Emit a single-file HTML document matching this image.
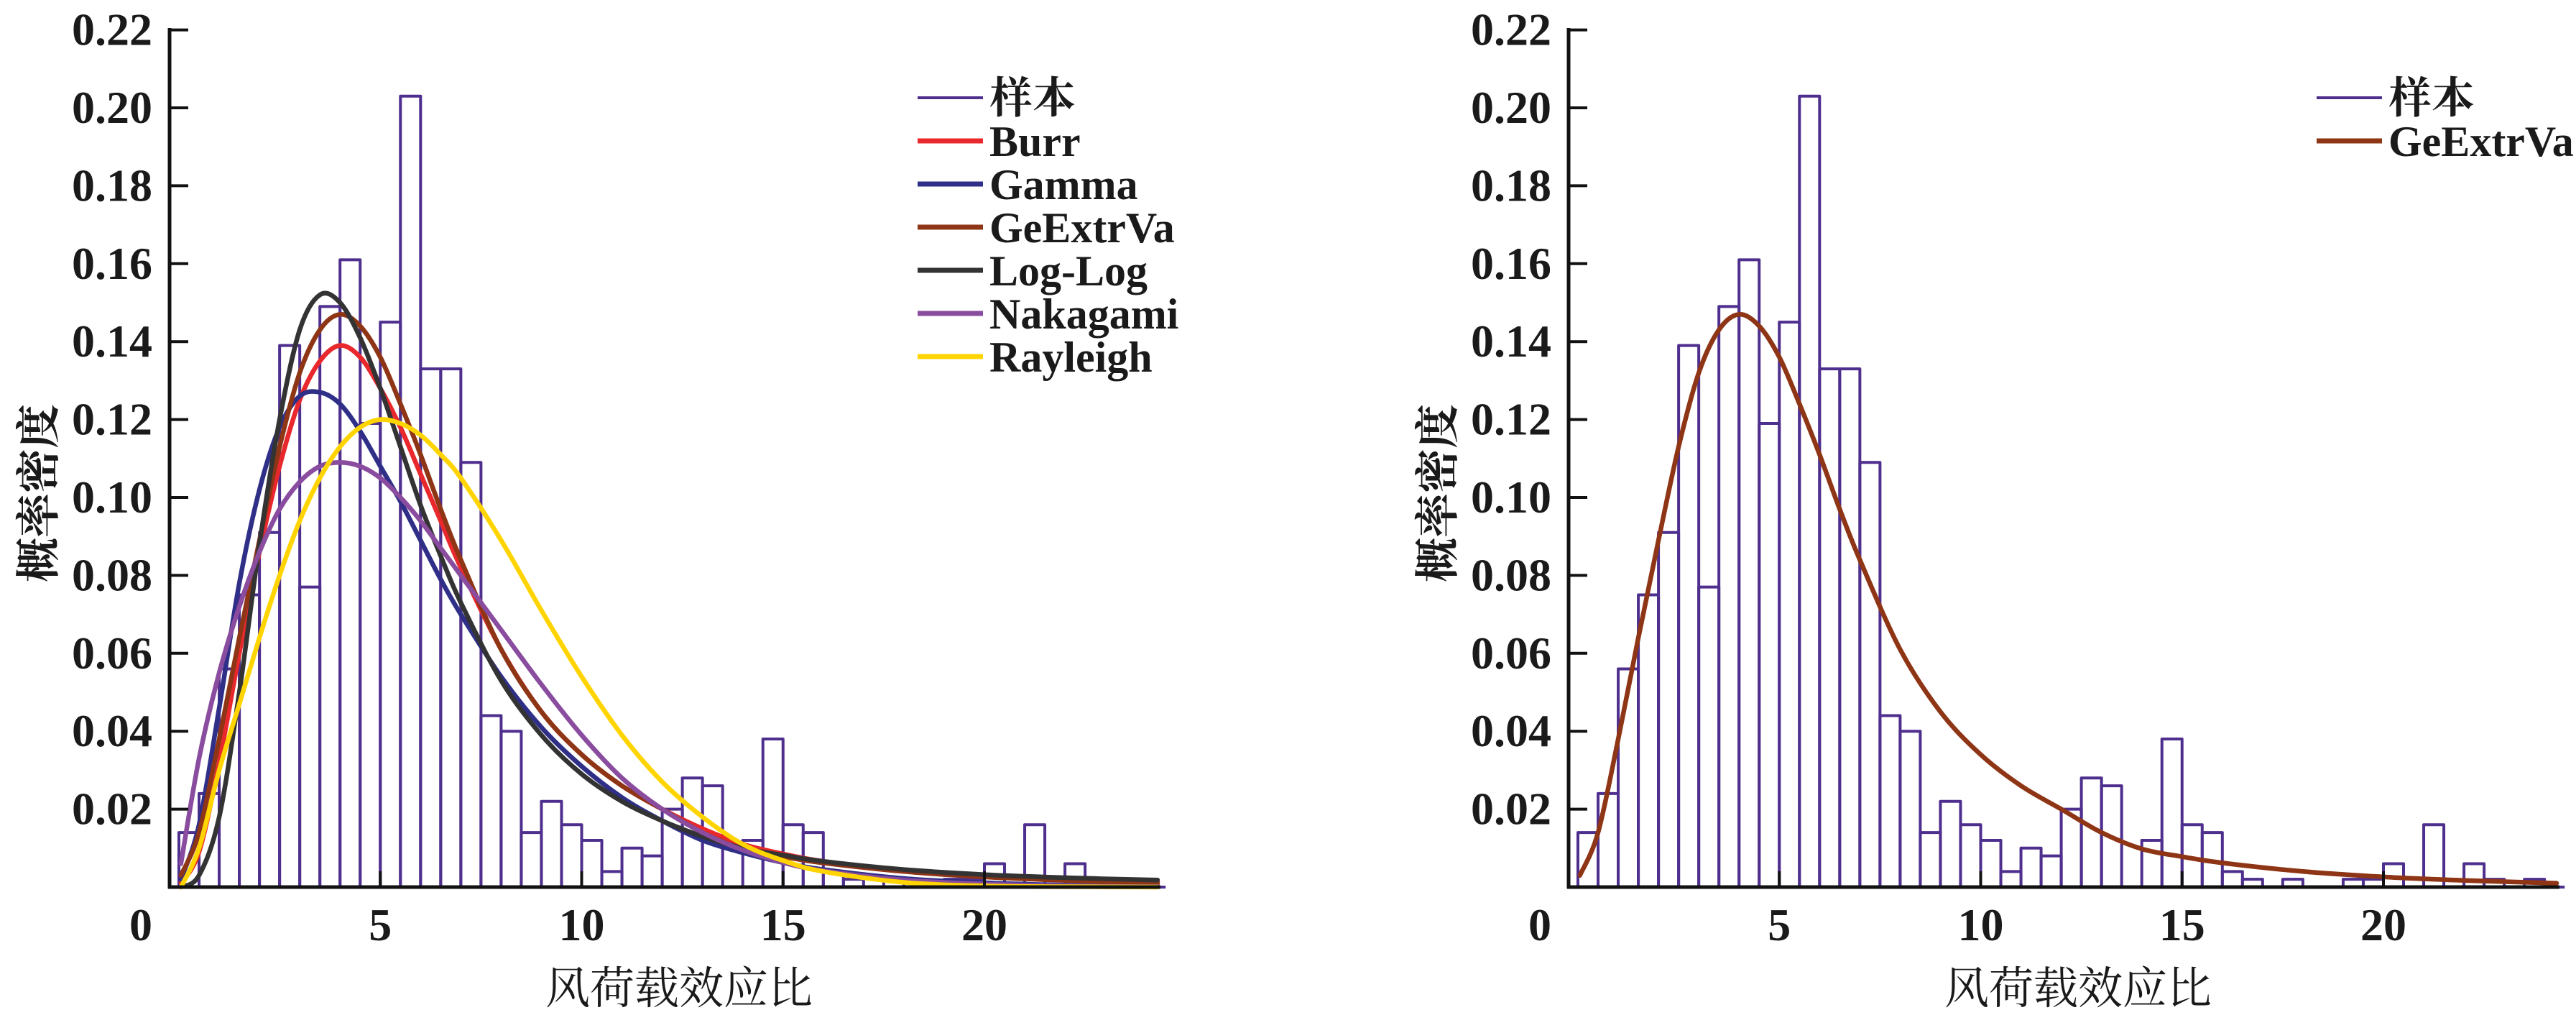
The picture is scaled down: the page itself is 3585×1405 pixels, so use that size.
<!DOCTYPE html>
<html><head><meta charset="utf-8">
<style>
html,body{margin:0;padding:0;background:#fff;}
svg{display:block;}
text{font-family:"Liberation Serif","Noto Serif CJK SC",serif;}
</style></head>
<body>
<svg id="fig" xmlns="http://www.w3.org/2000/svg" width="3585" height="1405" viewBox="0 0 3585 1405"></svg>
<script>
// ---- data ----
const binWidth = 0.5;
const sampleDensity = [0.014,0.024,0.056,0.075,0.091,0.139,0.077,0.149,0.161,0.119,
  0.145,0.203,0.133,0.133,0.109,0.044,0.040,0.014,0.022,0.016,
  0.012,0.004,0.010,0.008,0.020,0.028,0.026,0.0,0.012,0.038,
  0.016,0.014,0.004,0.002,0.0,0.002,0.0,0.0,0.002,0.002,
  0.006,0.0,0.016,0.0,0.006,0.002,0.0,0.002,0.0];
const curveX = [0.05,0.5,1,1.5,2,2.5,3,3.5,4,4.5,5,5.5,6,6.5,7,8,9,10,11,12,13,14,15,16,18,20,22,24.3];
const burrY = [0.001,0.009,0.032,0.060,0.086,0.108,0.125,0.135,0.139,0.136,0.128,0.118,0.106,0.094,0.082,0.061,0.045,0.034,0.026,0.020,0.015,0.011,0.0085,0.0066,0.0042,0.0028,0.0019,0.0013];
const gammaY = [0.002,0.016,0.046,0.078,0.102,0.118,0.126,0.127,0.124,0.117,0.108,0.099,0.089,0.079,0.070,0.054,0.041,0.031,0.023,0.017,0.012,0.0088,0.0063,0.0045,0.0022,0.0011,0.0005,0.0002];
const gevY = [0.003,0.014,0.038,0.064,0.089,0.113,0.132,0.143,0.147,0.144,0.136,0.124,0.111,0.097,0.084,0.061,0.045,0.034,0.026,0.020,0.014,0.0098,0.0078,0.0062,0.0040,0.0026,0.0017,0.0010];
const loglogY = [0.0,0.003,0.018,0.050,0.088,0.120,0.143,0.152,0.150,0.141,0.128,0.113,0.098,0.085,0.073,0.053,0.039,0.029,0.022,0.017,0.013,0.010,0.0082,0.0066,0.0045,0.0032,0.0024,0.0018];
const nakagamiY = [0.006,0.033,0.055,0.072,0.086,0.097,0.104,0.108,0.109,0.108,0.105,0.100,0.094,0.087,0.080,0.066,0.052,0.039,0.028,0.020,0.014,0.0095,0.0063,0.0042,0.0018,0.0008,0.0003,0.0001];
const rayleighY = [0.0,0.010,0.030,0.047,0.064,0.080,0.094,0.105,0.113,0.118,0.120,0.119,0.116,0.111,0.105,0.089,0.071,0.054,0.039,0.027,0.018,0.011,0.0068,0.004,0.0012,0.0003,0.0001,0.0];
const yTicks = [0.02,0.04,0.06,0.08,0.10,0.12,0.14,0.16,0.18,0.20,0.22];
const yTickLabels = ["0.02","0.04","0.06","0.08","0.10","0.12","0.14","0.16","0.18","0.20","0.22"];
const xTicks = [5,10,15,20];
const xTickLabels = ["5","10","15","20"];

const NS = "http://www.w3.org/2000/svg";
const svg = document.getElementById('fig');
function mk(tag, attrs, parent){
  const e = document.createElementNS(NS, tag);
  for (const k in attrs) e.setAttribute(k, attrs[k]);
  (parent||svg).appendChild(e);
  return e;
}
function smoothPath(pts){
  let d = "M" + pts[0][0].toFixed(1) + "," + pts[0][1].toFixed(1);
  for (let i=0;i<pts.length-1;i++){
    const p0 = pts[Math.max(0,i-1)], p1 = pts[i], p2 = pts[i+1], p3 = pts[Math.min(pts.length-1,i+2)];
    const c1x = p1[0]+(p2[0]-p0[0])/6, c1y = p1[1]+(p2[1]-p0[1])/6;
    const c2x = p2[0]-(p3[0]-p1[0])/6, c2y = p2[1]-(p3[1]-p1[1])/6;
    d += " C"+c1x.toFixed(1)+","+c1y.toFixed(1)+" "+c2x.toFixed(1)+","+c2y.toFixed(1)+" "+p2[0].toFixed(1)+","+p2[1].toFixed(1);
  }
  return d;
}

function drawChart(off, series, prefix){
  const axisX = 236+off, x0 = 249+off, unit = 56.05, y0 = 1234, yPer = 5420, axisEnd = 1615+off;
  const X = v => x0 + v*unit;
  const Y = v => y0 - v*yPer;
  const g = mk('g', {});
  
  

  const hg = mk('g', {}, g);
  
  
  sampleDensity.forEach((v,i)=>{
    const l = X(i*binWidth), r = X((i+1)*binWidth), t = Y(v);
    const p = mk('path', {d:"M"+l+","+y0+" L"+l+","+t+" L"+r+","+t+" L"+r+","+y0,
      fill:"none", stroke:"#4e2f8e", "stroke-width":4, "stroke-linejoin":"round"}, hg);
    
    
  });

  const cg = mk('g', {}, g);
  
  
  series.forEach(s=>{
    const pts = curveX.map((x,i)=>[X(x), Y(s.y[i])]);
    const p = mk('path', {d:smoothPath(pts), fill:"none", stroke:s.color, "stroke-width":6.5, "stroke-linecap":"round", "stroke-linejoin":"round"}, cg);
    
    
  });

  const yAxis = mk('line', {x1:axisX, y1:39, x2:axisX, y2:y0+2, stroke:"#111", "stroke-width":5}, g);
  
  
  const xAxis = mk('line', {x1:axisX-2, y1:y0, x2:axisEnd, y2:y0, stroke:"#111", "stroke-width":5}, g);
  
  

  yTicks.forEach((v,i)=>{
    const yy = Y(v);
    const t = mk('line', {x1:axisX, y1:yy, x2:axisX+26, y2:yy, stroke:"#111", "stroke-width":4}, g);
    
    
    const lb = mk('text', {x:axisX-24, y:yy+21, "text-anchor":"end", "font-size":64, "font-weight":"bold", fill:"#1a1a1a"}, g);
    lb.textContent = yTickLabels[i];
    
    
  });
  const z = mk('text', {x:196+off, y:1308, "text-anchor":"middle", "font-size":64, "font-weight":"bold", fill:"#1a1a1a"}, g);
  z.textContent = "0";
  
  
  xTicks.forEach((v,i)=>{
    const xx = X(v);
    const t = mk('line', {x1:xx, y1:y0, x2:xx, y2:y0-22, stroke:"#111", "stroke-width":4}, g);
    
    
    const lb = mk('text', {x:xx, y:1308, "text-anchor":"middle", "font-size":64, "font-weight":"bold", fill:"#1a1a1a"}, g);
    lb.textContent = xTickLabels[i];
    
    
  });

  const xt = mk('text', {x:945+off, y:1396, "text-anchor":"middle", "font-size":62, fill:"#1a1a1a",
    style:'font-family:"Liberation Serif","Noto Serif CJK SC",serif'}, g);
  xt.textContent = "风荷载效应比";
  
  
  const yt = mk('text', {x:0, y:0, "text-anchor":"middle", "font-size":62, "font-weight":"bold", fill:"#1a1a1a",
    transform:"translate("+(75+off)+",686) rotate(-90)",
    style:'font-family:"Liberation Serif","Noto Serif CJK SC",serif'}, g);
  yt.textContent = "概率密度";
  
  

  const lg = mk('g', {}, g);
  
  
  const entries = [{label:"样本", color:"#4e2f8e", w:4}].concat(series.map(s=>({label:s.label, color:s.color, w:7})));
  entries.forEach((e,i)=>{
    const ly = 136 + i*60;
    const eg = mk('g', {}, lg);
    
    
    mk('line', {x1:1277+off, y1:ly, x2:1368+off, y2:ly, stroke:e.color, "stroke-width":e.w}, eg);
    const tx = mk('text', {x:1377+off, y:ly+21, "font-size":60, "font-weight":"bold", fill:"#1a1a1a",
      style:'font-family:"Liberation Serif","Noto Serif CJK SC",serif'}, eg);
    tx.textContent = e.label;
  });
}

const allSeries = [
  {key:"burr", label:"Burr", color:"#e8282c", y:burrY},
  {key:"gamma", label:"Gamma", color:"#2f2f88", y:gammaY},
  {key:"geextrva", label:"GeExtrVa", color:"#8e3516", y:gevY},
  {key:"log-log", label:"Log-Log", color:"#333333", y:loglogY},
  {key:"nakagami", label:"Nakagami", color:"#8a4c9e", y:nakagamiY},
  {key:"rayleigh", label:"Rayleigh", color:"#ffd400", y:rayleighY}
];
drawChart(0, allSeries, "left");
drawChart(1947, [allSeries[2]], "right");
</script>
</body></html>
